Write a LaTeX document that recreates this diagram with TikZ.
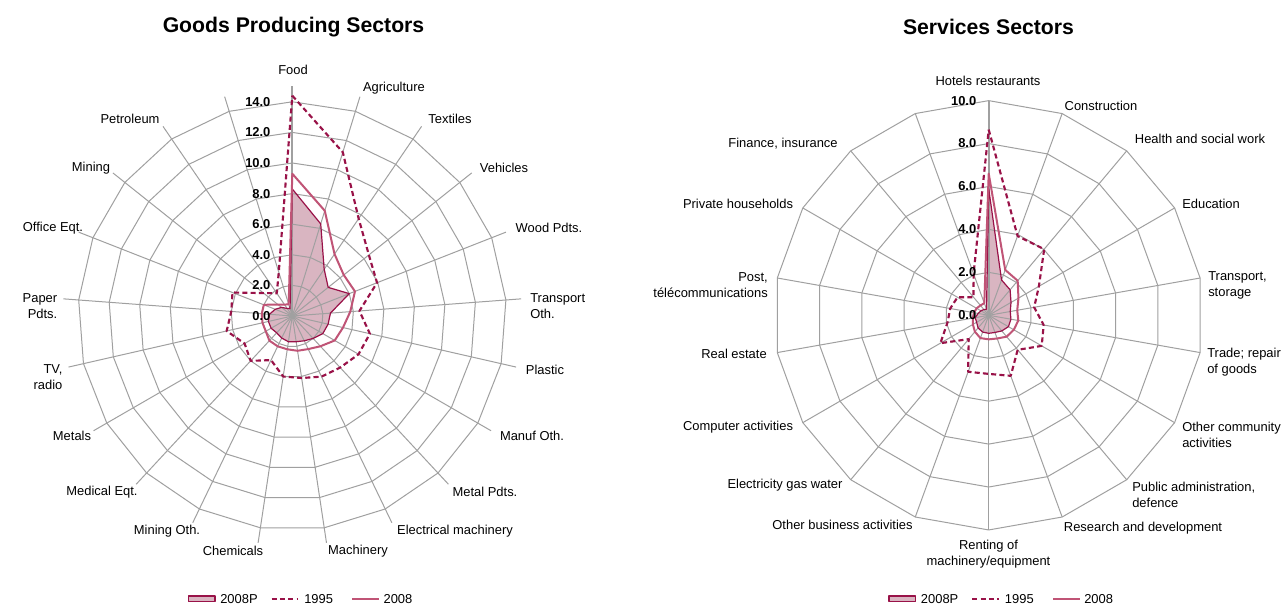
\documentclass[tikz,border=0pt]{standalone}
\usepackage{fontspec}
\setmainfont{Liberation Sans}

\definecolor{roseclair}{RGB}{217,181,193}
\definecolor{bordeaux}{RGB}{153,18,72}
\definecolor{rosevif}{RGB}{192,84,118}
\definecolor{grisgrille}{RGB}{160,160,160}

% Données : le premier point est sur l'axe du haut
\newcommand{\biensP}{6.3,3.7,3.0,4.0,2.5,2.4,2.3,2.0,1.8,1.7,1.7,1.6,1.5,1.6,1.6,1.5,1.2,0.9,0.6,0.5}
\newcommand{\biensAnc}{11.2,7.7,6.4,5.95,4.4,5.2,5.0,4.6,4.4,4.1,4.0,3.2,4.0,3.6,4.4,4.0,4.2,2.4,1.8,3.0}
\newcommand{\biensNouv}{7.2,4.9,4.3,4.4,3.8,3.4,3.2,2.7,2.4,2.3,2.2,2.2,2.2,2.0,2.0,2.0,2.0,1.2,0.9,0.8}
\newcommand{\servP}{1.75,1.55,1.2,1.02,1.05,1.06,0.95,0.85,0.84,0.83,0.77,0.65,0.64,0.5,0.42,0.35,0.3}
\newcommand{\servAnc}{3.93,4.02,2.7,2.15,2.6,2.85,2.1,3.0,2.73,2.8,1.45,2.6,1.95,1.82,1.68,1.1,2.06}
\newcommand{\servNouv}{2.25,2.1,1.6,1.35,1.4,1.35,1.3,1.15,1.12,1.13,1.0,0.85,0.75,0.7,0.65,0.6,0.6}

\begin{document}
\begin{tikzpicture}[x=0.75pt,y=0.75pt,
    grille/.style={grisgrille,line width=0.75pt},
    axe/.style={grisgrille,line width=1.5pt},
    bord/.style={bordeaux,line width=0.9pt,line join=round},
    serieA/.style={bordeaux,line width=1.6pt,dash pattern=on 3.8pt off 2.4pt,line join=round},
    serieB/.style={rosevif,line width=1.5pt,line join=round},
    etiq/.style={inner sep=0pt,font=\fontsize{9.7}{12}\selectfont},
    valeur/.style={inner sep=0pt,anchor=east,font=\fontsize{9.7}{12}\selectfont\bfseries},
    titre/.style={inner sep=0pt,font=\fontsize{15.9}{19}\selectfont\bfseries}]

    \path[fill=white,use as bounding box] (0,0) rectangle (1285,606);

    \coordinate (centreG) at (292.3,290);
    \coordinate (centreD) at (988.7,290.7);

    % Graphique des biens
    \begin{scope}[shift={(centreG)},x=11.475pt,y=11.475pt]
     \fill[roseclair] (90:8.3) \foreach \v [count=\k] in \biensP { -- ({90-\k*360/21}:\v) } -- cycle;
     \foreach \k in {1,...,20} \draw[grille] (0,0) -- ({90-\k*360/21}:15);
     \foreach \r in {2,4,...,14}
        \draw[grille] (90:\r) \foreach \k in {1,...,20} { -- ({90-\k*360/21}:\r) } -- cycle;
     \draw[axe] (0,0) -- (90:15);
     \draw[bord] (90:8.3) \foreach \v [count=\k] in \biensP { -- ({90-\k*360/21}:\v) } -- cycle;
     \draw[serieA] (90:14.4) \foreach \v [count=\k] in \biensAnc { -- ({90-\k*360/21}:\v) } -- cycle;
     \draw[serieB] (90:9.3) \foreach \v [count=\k] in \biensNouv { -- ({90-\k*360/21}:\v) } -- cycle;
    \end{scope}

    % Graphique des services
    \begin{scope}[shift={(centreD)},x=16.1pt,y=16.1pt]
     \fill[roseclair] (90:5.9) \foreach \v [count=\k] in \servP { -- ({90-\k*20}:\v) } -- cycle;
     \foreach \k in {1,...,17} \draw[grille] (0,0) -- ({90-\k*20}:10);
     \foreach \r in {2,4,...,10}
        \draw[grille] (90:\r) \foreach \k in {1,...,17} { -- ({90-\k*20}:\r) } -- cycle;
     \draw[axe] (0,0) -- (90:10);
     \draw[bord] (90:5.9) \foreach \v [count=\k] in \servP { -- ({90-\k*20}:\v) } -- cycle;
     \draw[serieA] (90:8.65) \foreach \v [count=\k] in \servAnc { -- ({90-\k*20}:\v) } -- cycle;
     \draw[serieB] (90:6.6) \foreach \v [count=\k] in \servNouv { -- ({90-\k*20}:\v) } -- cycle;
    \end{scope}

    % Valeurs des axes
    \foreach \v in {0,2,...,14} \node[valeur] (vG\v) at (270.7,290+15.3*\v) {\v.0};
    \foreach \v in {0,2,...,10} \node[valeur] (vD\v) at (976.5,290.7+21.47*\v) {\v.0};

    % Titres
    \node[titre] (titreG) at (293.5,579) {Goods Producing Sectors};
    \node[titre] (titreD) at (988.5,579) {Services Sectors};

    % Etiquettes des biens
    \node[etiq] (eFood) at (293,536) {Food};
    \node[etiq] (eAgri) at (394,518) {Agriculture};
    \node[etiq] (eText) at (450,487) {Textiles};
    \node[etiq] (eVehi) at (504,438) {Vehicles};
    \node[etiq] (eWood) at (549,378) {Wood Pdts.};
    \node[etiq,anchor=west,align=left] (eTrOth) at (530,299.5) {Transport\\Oth.};
    \node[etiq] (ePlas) at (545,236) {Plastic};
    \node[etiq] (eManuf) at (532,170) {Manuf Oth.};
    \node[etiq] (eMetP) at (485,114) {Metal Pdts.};
    \node[etiq] (eElec) at (455,75) {Electrical machinery};
    \node[etiq] (eMach) at (358,55) {Machinery};
    \node[etiq] (eChem) at (233,55) {Chemicals};
    \node[etiq] (eMinO) at (167,75) {Mining Oth.};
    \node[etiq] (eMed) at (102,114) {Medical Eqt.};
    \node[etiq] (eMetal) at (72,170) {Metals};
    \node[etiq,anchor=east,align=right] (eTV) at (62.7,229) {TV,\\radio};
    \node[etiq,anchor=east,align=right] (ePaper) at (57.5,300) {Paper\\Pdts.};
    \node[etiq] (eOffice) at (53,378) {Office Eqt.};
    \node[etiq] (eMining) at (91,438) {Mining};
    \node[etiq] (ePetro) at (130,487) {Petroleum};

    % Etiquettes des services
    \node[etiq] (eHotel) at (988,525) {Hotels restaurants};
    \node[etiq] (eConst) at (1101,500) {Construction};
    \node[etiq] (eHealth) at (1200,467) {Health and social work};
    \node[etiq] (eEduc) at (1211,402) {Education};
    \node[etiq,anchor=west,align=left] (eTransp) at (1208,321) {Transport,\\storage};
    \node[etiq,anchor=west,align=left] (eTrade) at (1207,244) {Trade; repair\\of goods};
    \node[etiq,anchor=west,align=left] (eComm) at (1182,171) {Other community\\activities};
    \node[etiq,anchor=west,align=left] (ePubl) at (1132,111.5) {Public administration,\\defence};
    \node[etiq] (eRech) at (1143,78) {Research and development};
    \node[etiq,align=center] (eRent) at (988.5,52) {Renting of\\machinery/equipment};
    \node[etiq] (eBus) at (842.5,81) {Other business activities};
    \node[etiq] (eElecGW) at (785,121) {Electricity gas water};
    \node[etiq] (eComp) at (738,179) {Computer activities};
    \node[etiq] (eReal) at (734,252) {Real estate};
    \node[etiq,anchor=east,align=right] (ePost) at (768,321) {Post,\\télécommunications};
    \node[etiq] (ePriv) at (738,402) {Private households};
    \node[etiq] (eFin) at (783,462) {Finance, insurance};

    % Légendes
    \foreach \dx/\n in {0/G,700.7/D} {
     \draw[bord,fill=roseclair] (188.3+\dx,4.3) rectangle (215+\dx,10);
     \node[etiq,anchor=west] (lP\n) at (220+\dx,7.3) {2008P};
     \draw[serieA] (271.7+\dx,7.3) -- (298.3+\dx,7.3);
     \node[etiq,anchor=west] (lA\n) at (304+\dx,7.3) {1995};
     \draw[serieB] (352.3+\dx,7.3) -- (379+\dx,7.3);
     \node[etiq,anchor=west] (lB\n) at (383.3+\dx,7.3) {2008};
    }

\end{tikzpicture}
\end{document}
